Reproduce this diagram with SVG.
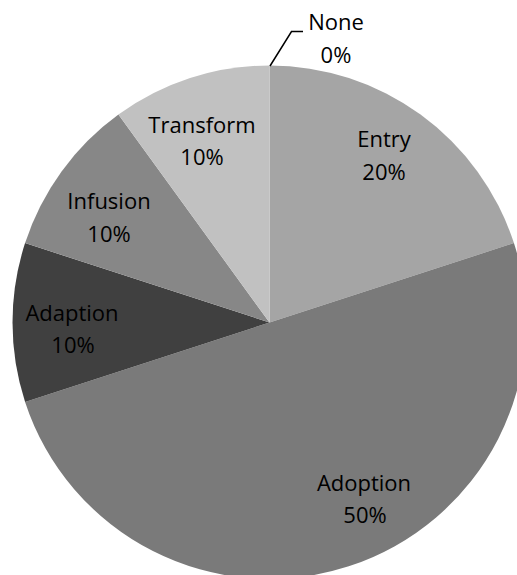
<svg xmlns="http://www.w3.org/2000/svg" width="517" height="575" viewBox="0 0 517 575">
  <style>
    .lbl { font-family: "Open Sans", "Noto Sans", "Liberation Sans", sans-serif; font-size: 22px; fill: #000000; text-anchor: middle; }
    .lead { fill: none; stroke: #000000; stroke-width: 1.5; }
  </style>
  <rect width="517" height="575" fill="#ffffff"/>
  <g id="slice-entry">
    <path d="M269.5,322.5 L269.5,65.5 A257,257 0 0 1 513.92,243.08 Z" fill="#a5a5a5"/>
    <text class="lbl" x="384" y="147">Entry</text>
    <text class="lbl" x="384" y="180">20%</text>
  </g>
  <g id="slice-adoption">
    <path d="M269.5,322.5 L513.92,243.08 A257,257 0 0 1 25.08,401.92 Z" fill="#7a7a7a"/>
    <text class="lbl" x="364" y="491">Adoption</text>
    <text class="lbl" x="365" y="523">50%</text>
  </g>
  <g id="slice-adaption">
    <path d="M269.5,322.5 L25.08,401.92 A257,257 0 0 1 25.08,243.08 Z" fill="#404040"/>
    <text class="lbl" x="72" y="321">Adaption</text>
    <text class="lbl" x="73" y="353">10%</text>
  </g>
  <g id="slice-infusion">
    <path d="M269.5,322.5 L25.08,243.08 A257,257 0 0 1 118.44,114.58 Z" fill="#878787"/>
    <text class="lbl" x="109" y="209">Infusion</text>
    <text class="lbl" x="109" y="242">10%</text>
  </g>
  <g id="slice-transform">
    <path d="M269.5,322.5 L118.44,114.58 A257,257 0 0 1 269.5,65.5 Z" fill="#c1c1c1"/>
    <text class="lbl" x="202" y="133">Transform</text>
    <text class="lbl" x="202" y="165">10%</text>
  </g>
  <g id="slice-none">
    <text class="lbl" x="336" y="30">None</text>
    <text class="lbl" x="336" y="63">0%</text>
  </g>
  <g id="connectors">
    <polyline class="lead" points="270,66 291.5,31.5 303,31.5"/>
  </g>
</svg>
